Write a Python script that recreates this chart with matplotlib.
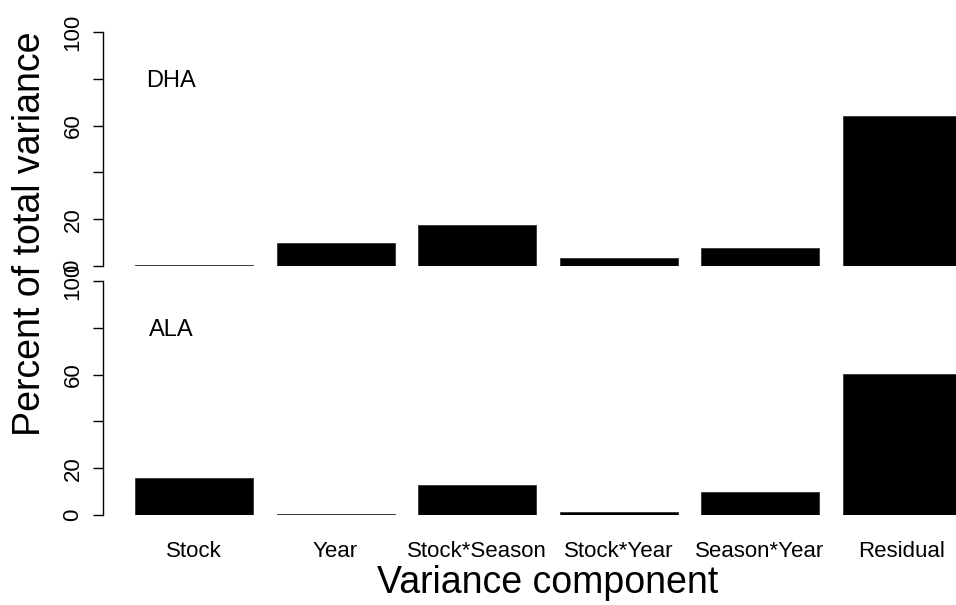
import matplotlib
matplotlib.use("Agg")
import matplotlib.pyplot as plt
import numpy as np

plt.rcParams['font.family'] = ['Liberation Sans', 'DejaVu Sans']

components = ["Stock", "Year", "Stock*Season", "Stock*Year", "Season*Year", "Residual"]
dha = [0.6, 9.7, 17.5, 3.3, 7.8, 64.0]
ala = [16.0, 0.5, 12.8, 1.4, 9.8, 60.2]
panel_labels = ["DHA", "ALA"]
yticks = [0, 20, 40, 60, 80, 100]
ytick_labels = ["0", "20", "", "60", "", "100"]

W, H = 956, 605
fig = plt.figure(figsize=(W / 100, H / 100), dpi=100)

def frac_box(left_px, top_px, right_px, bottom_px):
    return [left_px / W, 1 - bottom_px / H, (right_px - left_px) / W, (bottom_px - top_px) / H]

axes = [fig.add_axes(frac_box(103, 32, 956, 266)),
        fig.add_axes(frac_box(103, 281, 956, 515))]

x = np.arange(len(components))
pitch = 141.5
for ax, vals, lab in zip(axes, [dha, ala], panel_labels):
    ax.bar(x, vals, width=118 / pitch, color="black", edgecolor="#333333", linewidth=0.6)
    ax.set_xlim((103 - 194) / pitch, (956 - 194) / pitch)
    ax.set_ylim(0, 100)
    for s in ["top", "right", "bottom"]:
        ax.spines[s].set_visible(False)
    ax.spines["left"].set_bounds(0, 100)
    ax.spines["left"].set_linewidth(1.0)
    ax.set_yticks(yticks)
    ax.set_yticklabels(ytick_labels, rotation=90, va="center", fontsize=16)
    ax.tick_params(axis="y", length=7, width=1.0, pad=7)
    ax.set_xticks([])
    ax.text(-0.16, 79, lab, ha="center", va="center", fontsize=17)

axes[1].set_xticks(x)
axes[1].set_xticklabels(components, fontsize=16)
axes[1].tick_params(axis="x", length=0, pad=19)

fig.text(548 / W, 1 - 583 / H, "Variance component", ha="center", va="center", fontsize=27)
fig.text(30 / W, 1 - 234 / H, "Percent of total variance", ha="center", va="center",
         rotation=90, fontsize=27)

fig.savefig("out.png", dpi=100)
